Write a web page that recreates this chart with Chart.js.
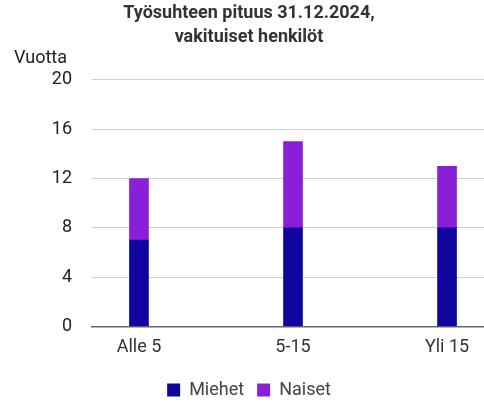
<!DOCTYPE html>
<html><head><meta charset="utf-8">
<script src="https://cdn.jsdelivr.net/npm/chart.js@4"></script>
<style>html,body{margin:0;padding:0;background:#fff}#w{width:484px;height:402px}</style>
</head><body><div id="w"><canvas id="c"></canvas></div>
<script>
const categories = ["Alle 5", "5-15", "Yli 15"];
const miehet = [7, 8, 8];
const naiset = [5, 7, 5];
const yTicks = [0, 4, 8, 12, 16, 20];

const toXY = arr => arr.map((v, i) => ({x: i, y: v}));
Chart.defaults.font.family = "Roboto, 'Noto Sans', sans-serif";
Chart.defaults.color = "#333";

new Chart(document.getElementById('c'), {
  type: 'bar',
  data: {
    datasets: [
      {label: 'Miehet', data: toXY(miehet), backgroundColor: '#10069f', barThickness: 19},
      {label: 'Naiset', data: toXY(naiset), backgroundColor: '#8a1fd8', barThickness: 19}
    ]
  },
  options: {
    responsive: true, maintainAspectRatio: false, animation: false,
    layout: {padding: {left: 14, right: 0, top: 0, bottom: -7}},
    plugins: {
      title: {display: true, text: ['Työsuhteen pituus 31.12.2024,', 'vakituiset henkilöt'],
        font: {size: 18, weight: 'bold', lineHeight: 1.36}, color: '#333', padding: {top: 1, bottom: 0}},
      subtitle: {display: true, text: 'Vuotta', align: 'start', font: {size: 18, lineHeight: 1}, color: '#222', padding: {top: 0, bottom: 12}},
      legend: {position: 'bottom', labels: {boxWidth: 13, boxHeight: 13, font: {size: 18}, color: '#444', padding: 13}},
      tooltip: {enabled: false}
    },
    scales: {
      x: {
        type: 'linear', stacked: true, min: -0.305, max: 2.24, offset: false,
        afterBuildTicks: s => { s.ticks = categories.map((c, i) => ({value: i})); },
        afterFit: s => { s.paddingLeft = 0; s.paddingRight = 0; },
        ticks: {callback: v => categories[v], font: {size: 18}, color: '#333', padding: 10, autoSkip: false, maxRotation: 0},
        grid: {display: false, drawTicks: false},
        border: {display: true, color: '#666', width: 1.5}
      },
      y: {
        stacked: true, min: 0, max: 20,
        afterBuildTicks: s => { s.ticks = yTicks.map(v => ({value: v})); },
        afterFit: s => { s.width = 78; },
        ticks: {font: {size: 18}, color: '#222', padding: 20},
        grid: {color: '#d0d0d0', drawTicks: false},
        border: {display: false}
      }
    }
  }
});
</script></body></html>
